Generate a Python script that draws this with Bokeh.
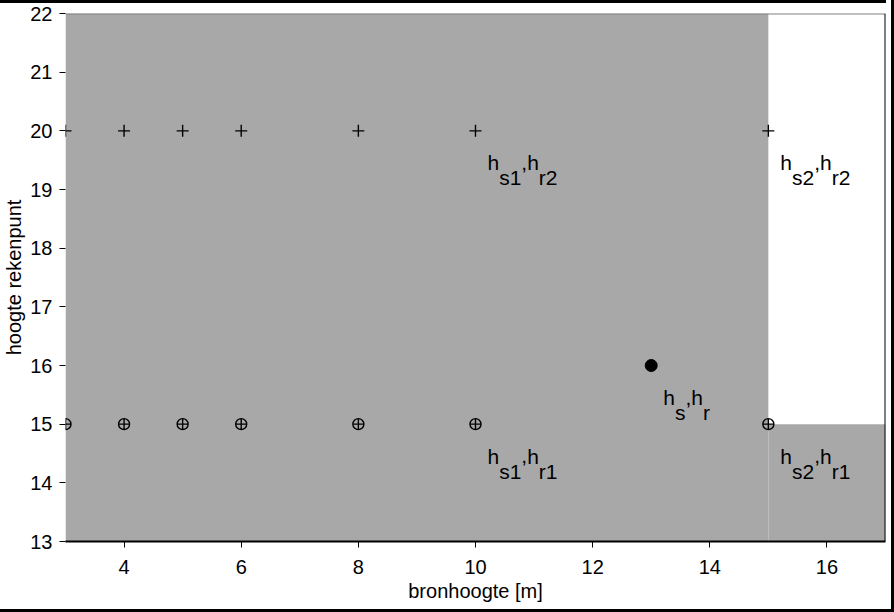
from bokeh.plotting import figure
from bokeh.models import Range1d, FixedTicker, Span, ColumnDataSource
from bokeh.core.properties import value
from bokeh.embed import file_html
from bokeh.resources import INLINE

# ---- data ----
region_left = [3, 15]
region_right = [15, 17]
region_bottom = [13, 13]
region_top = [22, 15]

source_heights = [3, 4, 5, 6, 8, 10, 15]
receiver_high = 20
receiver_low = 15

point_x = [13]
point_y = [16]

label_x = [10, 15, 10, 15, 13]
label_y = [20, 20, 15, 15, 16]
label_sub1 = ["s1", "s2", "s1", "s2", "s"]
label_sub2 = ["r2", "r2", "r1", "r1", "r"]

x_ticks = [4, 6, 8, 10, 12, 14, 16]
y_ticks = [13, 14, 15, 16, 17, 18, 19, 20, 21, 22]

FONT = "Liberation Sans"
FS = 20
LFS = 21
GRAY = "#a8a8a8"

p = figure(width=886, height=604, output_backend="svg", toolbar_location=None,
           x_range=Range1d(3, 17), y_range=Range1d(13, 22),
           min_border_left=58, min_border_right=1, min_border_top=13, min_border_bottom=59)
p.styles = {"outline": "3px solid black", "outline-offset": "5px",
            "box-shadow": "inset 0 3px 0 0 black"}
p.background_fill_color = "white"
p.border_fill_color = None
p.outline_line_color = None
p.xgrid.visible = False
p.ygrid.visible = False

p.quad(left=region_left, right=region_right, bottom=region_bottom, top=region_top,
       fill_color=GRAY, line_color=None)

# axes
xa = p.xaxis[0]
xa.ticker = FixedTicker(ticks=x_ticks)
xa.axis_line_color = "black"
xa.axis_line_width = 2
xa.major_tick_in = 0
xa.major_tick_out = 6
xa.major_tick_line_color = "black"
xa.minor_tick_line_color = None
xa.major_label_text_font = FONT
xa.major_label_text_font_size = f"{FS}px"
xa.major_label_text_color = "black"
xa.major_label_standoff = 12
xa.axis_label = "bronhoogte [m]"
xa.axis_label_text_font = FONT
xa.axis_label_text_font_size = f"{FS}px"
xa.axis_label_text_font_style = "normal"
xa.axis_label_text_color = "black"
xa.axis_label_standoff = 3

ya = p.yaxis[0]
ya.ticker = FixedTicker(ticks=y_ticks)
ya.axis_line_color = None
ya.major_tick_in = 0
ya.major_tick_out = 6
ya.major_tick_line_color = "black"
ya.minor_tick_line_color = None
ya.major_label_text_font = FONT
ya.major_label_text_font_size = f"{FS}px"
ya.major_label_text_color = "black"
ya.major_label_standoff = 7
ya.axis_label = "hoogte rekenpunt"
ya.axis_label_text_font = FONT
ya.axis_label_text_font_size = f"{FS}px"
ya.axis_label_text_font_style = "normal"
ya.axis_label_text_color = "black"
ya.axis_label_standoff = 2

# frame edges: grey top, black right
p.add_layout(Span(location=22, dimension="width", line_color="#808080", line_width=2))
p.add_layout(Span(location=17, dimension="height", line_color="black", line_width=2))

# markers
p.scatter(x=source_heights, y=[receiver_high] * len(source_heights), marker="cross",
          size=12, line_color="black", line_width=1.4)
p.scatter(x=source_heights, y=[receiver_low] * len(source_heights), marker="circle_cross",
          size=11, line_color="black", line_width=1.4, fill_color=None)
p.scatter(x=point_x, y=point_y, marker="circle", size=12, fill_color="black", line_color="black")

# labels with subscripts
W = {"h": 0.556, "s": 0.5, "r": 0.333, "1": 0.556, "2": 0.556, ",": 0.278}
def width(t):
    return sum(W.get(c, 0.556) for c in t) * LFS

tx, ty, tt, xo, yo = [], [], [], [], []
DX, DY_MAIN, DY_SUB = 12, 32, 47
for lx, ly, s1, s2 in zip(label_x, label_y, label_sub1, label_sub2):
    parts = [("h", False), (s1, True), (",", False), ("h", False), (s2, True)]
    off = DX
    for t, sub in parts:
        tx.append(lx); ty.append(ly); tt.append(t)
        xo.append(off); yo.append(DY_SUB if sub else DY_MAIN)
        off += width(t)

src = ColumnDataSource(dict(x=tx, y=ty, text=tt, xo=xo, yo=yo))
p.text(x="x", y="y", text="text", x_offset="xo", y_offset="yo", source=src,
       text_font=value(FONT), text_font_size=f"{LFS}px", text_color="black",
       text_align="left", text_baseline="alphabetic")

open("out.html", "w").write(file_html(p, INLINE))
